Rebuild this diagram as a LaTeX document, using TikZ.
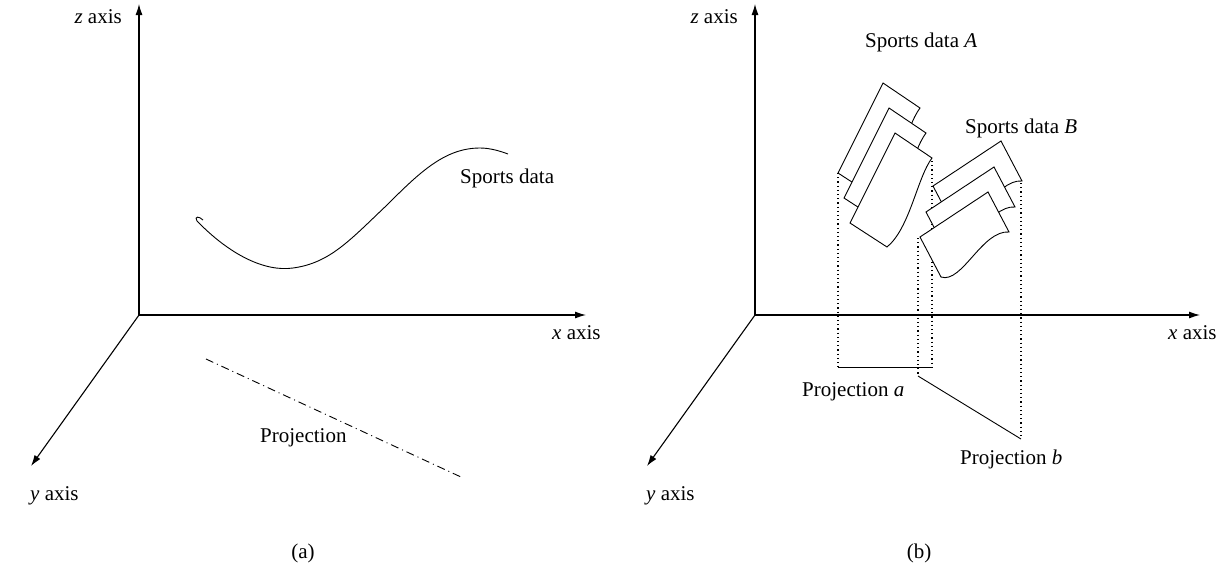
\documentclass[tikz,border=0pt]{standalone}
\usepackage{fontspec}
\setmainfont{Liberation Serif}
\usetikzlibrary{arrows.meta}
\begin{document}
\begin{tikzpicture}[x=1pt,y=-1pt,
  axisline/.style={line width=1.1pt,-{Latex[length=11pt,width=7pt]}},
  lbl/.style={inner sep=0pt,font=\fontsize{21}{25}\selectfont},
  dotline/.style={line width=1.3pt,dash pattern=on 1.2pt off 3pt},
  sheet/.style={draw,fill=white,line width=0.9pt,line join=miter},
  shapeA/.pic={\path[sheet] (0,0) -- (37,25) .. controls (22,45) and (15,95) .. (-8,114) -- (-45,90) -- cycle;},
  shapeB/.pic={\path[sheet] (0,0) -- (21,40) .. controls (-6,38) and (-26,92) .. (-47,85) -- (-68,45) -- cycle;}
]
\useasboundingbox (0,0) rectangle (1226,566);

% ---------- panel (a) ----------
\coordinate (oa) at (139,315);
\coordinate (za) at (139,4);
\coordinate (xa) at (586,315);
\coordinate (ya) at (31,466);
\draw[axisline] (oa) -- (za);
\draw[axisline] (oa) -- (xa);
\draw[axisline] (oa) -- (ya);
\node[lbl,anchor=base east] (zla) at (122,23) {\textit{z} axis};
\node[lbl,anchor=base west] (xla) at (552,339) {\textit{x} axis};
\node[lbl,anchor=base west] (yla) at (30,500) {\textit{y} axis};

\draw[line width=0.9pt] (203,220) .. controls (199,216) and (194,216) .. (197,221)
  .. controls (230,255) and (265,272) .. (293,268)
  .. controls (330,263) and (350,240) .. (387,205)
  .. controls (420,172) and (445,148) .. (480,148)
  .. controls (490,148) and (500,151) .. (508,154);
\node[lbl,anchor=base west] (sda) at (460,183) {Sports data};

\coordinate (pa1) at (206,359);
\coordinate (pa2) at (461,477);
\draw[line width=0.9pt,dash pattern=on 8pt off 4pt on 1pt off 4pt] (pa1) -- (pa2);
\node[lbl,anchor=base west] (proja) at (260,442) {Projection};
\node[lbl] (capa) at (303,553) {(a)};

% ---------- panel (b) ----------
\coordinate (ob) at (755,315);
\coordinate (zb) at (755,4);
\coordinate (xb) at (1200,315);
\coordinate (yb) at (647,466);
\draw[axisline] (ob) -- (zb);
\draw[axisline] (ob) -- (xb);
\draw[axisline] (ob) -- (yb);
\node[lbl,anchor=base east] (zlb) at (738,23) {\textit{z} axis};
\node[lbl,anchor=base west] (xlb) at (1168,339) {\textit{x} axis};
\node[lbl,anchor=base west] (ylb) at (646,500) {\textit{y} axis};

\node[lbl,anchor=base west] (sdA) at (865,47) {Sports data \textit{A}};
\node[lbl,anchor=base west] (sdB) at (965,133) {Sports data \textit{B}};

% projections (drawn first)
\coordinate (d1t) at (838,173);
\coordinate (d1b) at (838,367);
\coordinate (d2t) at (932,161);
\coordinate (d2b) at (932,367);
\coordinate (d3t) at (918,238);
\coordinate (d3b) at (918,376);
\coordinate (d4t) at (1021,183);
\coordinate (d4b) at (1021,439);
\draw[dotline] (d1t) -- (d1b);
\draw[dotline] (d2t) -- (d2b);
\draw[dotline] (d3t) -- (d3b);
\draw[dotline] (d4t) -- (d4b);
\draw[line width=0.9pt] (d1b) -- (d2b);
\draw[line width=0.9pt] (d3b) -- (d4b);
\node[lbl,anchor=base west] (pja) at (802,396) {Projection \textit{a}};
\node[lbl,anchor=base west] (pjb) at (960,464) {Projection \textit{b}};
\node[lbl] (capb) at (919,553) {(b)};

% sheets A
\pic at (883,83) {shapeA};
\pic at (889,108) {shapeA};
\pic at (895,133) {shapeA};
% sheets B
\pic at (1001,141) {shapeB};
\pic at (994,167) {shapeB};
\pic at (988,192) {shapeB};
\end{tikzpicture}
\end{document}
